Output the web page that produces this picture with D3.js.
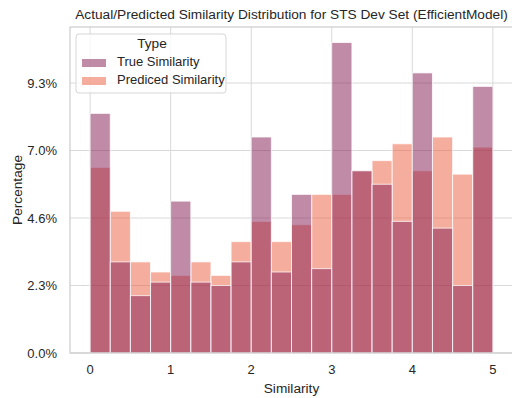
<!DOCTYPE html>
<html>
<head>
<meta charset="utf-8">
<script src="https://cdn.jsdelivr.net/npm/d3@7"></script>
<style>
  body { margin: 0; background: #fff; }
  text { font-family: "Liberation Sans", Arial, sans-serif; fill: #262626; }
</style>
</head>
<body>
<div id="chart"></div>
<script>
// histogram bins (width 0.25) and counts
var binEdges = [0, 0.25, 0.5, 0.75, 1, 1.25, 1.5, 1.75, 2, 2.25, 2.5, 2.75, 3, 3.25, 3.5, 3.75, 4, 4.25, 4.5, 4.75, 5];
var trueCounts = [71, 27, 17, 21, 45, 21, 20, 27, 64, 24, 47, 25, 92, 54, 50, 39, 83, 37, 20, 79];
var predCounts = [55, 42, 27, 24, 23, 27, 23, 33, 39, 33, 38, 47, 47, 54, 57, 62, 54, 64, 53, 61];
var seriesNames = ["True Similarity", "Prediced Similarity"];
var xTicks = [0, 1, 2, 3, 4, 5];
var yTickCounts = [0, 20, 40, 60, 80];
var yTickLabels = ["0.0%", "2.3%", "4.6%", "7.0%", "9.3%"];

var W = 512, H = 398;
var margin = { top: 27, right: -1, bottom: 45, left: 70 };
var width = W - margin.left - margin.right;
var height = H - margin.top - margin.bottom;

var colors = ["#811750", "#eb5d3d"];
var gridColor = "#d9d9d9";

var svg = d3.select("#chart")
  .append("svg")
  .attr("width", W)
  .attr("height", H);

var g = svg.append("g")
  .attr("transform", `translate(${margin.left},${margin.top})`);

var x = d3.scaleLinear().domain([-0.25, 5.25]).range([0, width]);
var ymax = d3.max(trueCounts.concat(predCounts)) * 1.05;
var y = d3.scaleLinear().domain([0, ymax]).range([height, 0]);

// grid
g.selectAll(".vgrid")
  .data(xTicks)
  .join("line")
  .attr("x1", d => x(d)).attr("x2", d => x(d))
  .attr("y1", 0).attr("y2", height)
  .style("stroke", gridColor)
  .style("stroke-width", 1);

g.selectAll(".hgrid")
  .data(yTickCounts)
  .join("line")
  .attr("x1", 0).attr("x2", width)
  .attr("y1", d => y(d)).attr("y2", d => y(d))
  .style("stroke", gridColor)
  .style("stroke-width", 1);

// bars: predicted first, true on top (like seaborn's layering)
var layers = [
  { name: seriesNames[1], counts: predCounts, color: colors[1] },
  { name: seriesNames[0], counts: trueCounts, color: colors[0] }
];

layers.forEach(function (layer) {
  g.append("g").selectAll("rect")
    .data(layer.counts)
    .join("rect")
    .attr("x", (d, i) => x(binEdges[i]))
    .attr("width", (d, i) => x(binEdges[i + 1]) - x(binEdges[i]))
    .attr("y", d => y(d))
    .attr("height", d => y(0) - y(d))
    .attr("fill", layer.color)
    .attr("fill-opacity", 0.5)
    .attr("stroke", "#fff")
    .attr("stroke-opacity", 0.75)
    .attr("stroke-width", 1);
});

// frame
g.append("rect")
  .attr("x", 0).attr("y", 0)
  .attr("width", width).attr("height", height)
  .attr("fill", "none")
  .style("stroke", "#cccccc")
  .style("stroke-width", 1.2);

// tick labels
g.selectAll(".xlab")
  .data(xTicks)
  .join("text")
  .attr("x", d => x(d))
  .attr("y", height + 21)
  .attr("text-anchor", "middle")
  .style("font-size", "13px")
  .text(d => d);

g.selectAll(".ylab")
  .data(yTickCounts)
  .join("text")
  .attr("x", -13)
  .attr("y", d => y(d) + 4.5)
  .attr("text-anchor", "end")
  .style("font-size", "13px")
  .text((d, i) => yTickLabels[i]);

// axis titles
svg.append("text")
  .attr("x", margin.left + width / 2)
  .attr("y", 393)
  .attr("text-anchor", "middle")
  .style("font-size", "13.7px")
  .text("Similarity");

svg.append("text")
  .attr("transform", `translate(22,${margin.top + height / 2}) rotate(-90)`)
  .attr("text-anchor", "middle")
  .style("font-size", "13.7px")
  .text("Percentage");

svg.append("text")
  .attr("x", margin.left + width / 2)
  .attr("y", 19)
  .attr("text-anchor", "middle")
  .style("font-size", "13.7px")
  .text("Actual/Predicted Similarity Distribution for STS Dev Set (EfficientModel)");

// legend
var legend = svg.append("g").attr("transform", "translate(76,34)");
legend.append("rect")
  .attr("width", 150).attr("height", 59)
  .attr("rx", 3)
  .attr("fill", "#fff").attr("fill-opacity", 0.8)
  .style("stroke", "#d6d6d6");
legend.append("text")
  .attr("x", 76).attr("y", 14)
  .attr("text-anchor", "middle")
  .style("font-size", "13.7px")
  .text("Type");
seriesNames.forEach(function (name, i) {
  legend.append("rect")
    .attr("x", 6).attr("y", 25 + i * 18)
    .attr("width", 24).attr("height", 8)
    .attr("fill", colors[i]).attr("fill-opacity", 0.5);
  legend.append("text")
    .attr("x", 41).attr("y", 32 + i * 18)
    .style("font-size", "13px")
    .text(name);
});
</script>
</body>
</html>
